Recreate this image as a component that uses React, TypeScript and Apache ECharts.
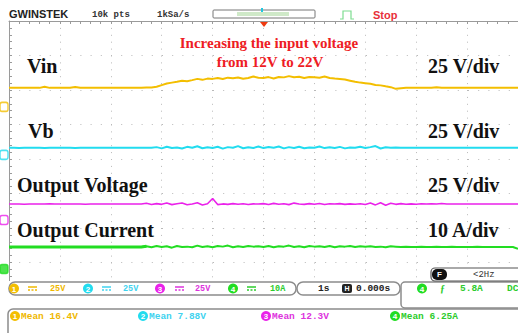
import React, { useEffect, useRef } from "react";
import * as echarts from "echarts";

// ---- Data ----
const TIME_STEP = 0.1; // seconds between samples (1 s/div, 10 div)
const CH_NAMES = ["Vin", "Vb", "Output Voltage", "Output Current"];
const CH_SCALE = [25, 25, 25, 10]; // V/div, V/div, V/div, A/div
const CH_OFFSET = [1.51, 0.12, -1.77, -3.19]; // ground level, divisions from centre

const VIN = [
  13.8, 13.8, 13.9, 13.8, 13.8, 13.8, 13.8, 14.6, 13.8, 13.8,
  13.8, 13.9, 13.8, 14.4, 13.8, 13.8, 13.8, 13.8, 13.9, 13.8,
  13.8, 13.8, 13.8, 13.9, 13.8, 13.8, 13.8, 14.0, 14.1, 14.6,
  15.8, 17.0, 17.6, 18.2, 19.0, 18.6, 19.4, 20.3, 19.6, 20.5,
  20.3, 21.0, 20.2, 21.2, 20.8, 21.3, 20.4, 21.0, 22.0, 21.2,
  21.0, 21.6, 20.6, 21.7, 21.4, 22.3, 21.5, 21.8, 20.9, 21.7,
  21.5, 21.2, 22.0, 21.0, 20.6, 20.3, 19.8, 19.0, 18.2, 17.6,
  17.2, 16.8, 15.9, 15.6, 14.9, 14.3, 13.1, 13.6, 13.8, 13.8,
  13.8, 13.9, 13.8, 13.8, 14.2, 13.8, 13.8, 13.8, 13.8, 13.8,
  13.8, 13.8, 13.9, 13.8, 13.8, 13.8, 13.8, 13.8, 13.8, 13.8,
  13.8,
];
const VB = [
  5.1, 5.1, 5.0, 5.1, 5.1, 5.1, 5.1, 5.0, 5.1, 5.1,
  5.1, 5.1, 5.1, 5.0, 5.1, 5.1, 5.1, 5.1, 5.1, 5.1,
  5.1, 5.1, 5.1, 5.1, 5.1, 5.1, 5.1, 5.1, 5.1, 5.6,
  4.7, 5.9, 5.0, 5.4, 4.6, 5.8, 5.1, 6.2, 4.8, 5.5,
  5.0, 5.9, 4.5, 5.6, 5.1, 6.3, 4.8, 5.5, 5.0, 6.0,
  4.9, 5.7, 5.2, 6.1, 4.7, 5.6, 5.0, 5.9, 4.8, 5.4,
  5.1, 6.0, 4.9, 5.5, 5.0, 5.8, 4.7, 5.4, 5.1, 5.9,
  5.0, 5.6, 6.4, 4.6, 5.5, 5.1, 5.3, 5.1, 5.2, 5.1,
  5.1, 5.1, 5.1, 5.1, 5.1, 5.1, 5.1, 5.1, 5.1, 5.1,
  5.1, 5.1, 5.1, 5.1, 5.1, 5.1, 5.1, 5.1, 5.1, 5.1,
  5.1,
];
const VOUT = [
  11.6, 11.6, 11.6, 11.5, 11.6, 11.6, 11.6, 11.6, 11.7, 11.6,
  11.6, 11.6, 11.6, 11.6, 11.6, 11.5, 11.6, 11.6, 11.6, 11.6,
  11.6, 11.6, 11.6, 11.6, 11.6, 11.6, 11.6, 12.2, 11.3, 11.9,
  11.4, 12.3, 11.2, 11.8, 12.4, 11.1, 11.7, 12.6, 10.9, 11.8,
  15.6, 11.2, 11.7, 11.4, 11.9, 11.5, 11.8, 11.3, 11.7, 11.6,
  11.9, 11.3, 12.1, 11.5, 11.8, 11.2, 12.3, 11.6, 11.4, 11.9,
  11.5, 12.0, 11.3, 11.8, 11.6, 11.9, 11.4, 11.7, 11.5, 11.8,
  11.3, 12.4, 11.0, 12.6, 10.8, 12.2, 11.4, 11.9, 11.5, 11.7,
  11.5, 11.8, 11.6, 11.7, 11.6, 12.0, 11.6, 11.6, 11.6, 11.6,
  11.6, 11.6, 11.6, 11.6, 11.6, 11.6, 11.6, 11.6, 11.6, 11.6,
  11.6,
];
const IOUT = [
  6.4, 6.4, 6.4, 6.4, 6.4, 6.4, 6.4, 6.4, 6.4, 6.4,
  6.4, 6.4, 6.4, 6.4, 6.4, 6.4, 6.4, 6.4, 6.4, 6.4,
  6.4, 6.4, 6.4, 6.4, 6.4, 6.4, 6.4, 6.6, 6.3, 6.7,
  6.4, 6.6, 6.2, 6.7, 6.4, 6.5, 6.3, 6.8, 6.4, 6.6,
  6.3, 6.7, 6.5, 6.8, 6.3, 6.6, 6.4, 6.7, 6.5, 6.6,
  6.4, 6.7, 6.3, 6.6, 6.5, 6.8, 6.4, 6.6, 6.3, 6.7,
  6.5, 6.6, 6.4, 6.7, 6.3, 6.6, 6.5, 6.7, 6.4, 6.6,
  6.5, 6.6, 6.4, 6.5, 6.3, 6.6, 6.5, 6.4, 6.5, 6.4,
  6.4, 6.5, 6.4, 6.4, 6.5, 6.4, 6.4, 6.5, 6.4, 6.4,
  6.4, 6.4, 6.5, 6.4, 6.4, 6.4, 6.4, 6.4, 6.4, 6.4,
  5.9,
];
const CH_DATA = [VIN, VB, VOUT, IOUT];
const CH_SETTING_LABELS = ["25V", "25V", "25V", "10A"];
const DIV_LABELS = ["25 V/div", "25 V/div", "25 V/div", "10 A/div"];
const MEAN_LABELS = ["Mean 16.4V", "Mean 7.88V", "Mean 12.3V", "Mean 6.25A"];
const TIMEBASE = "1s";
const H_POS = "0.000s";
const TRIG_LEVEL = "5.8A";
const TRIG_FREQ = "<2Hz";

// ---- Styles ----
const CH_COLORS = ["#f3be00", "#22dcef", "#ea22ea", "#22dd22"];
const CH_TEXT = ["#efb800", "#3fd3ef", "#dd33dd", "#2ccc2c"];
const GRID_DOT = "#b9b9b9";
const FRAME = "#9a9a9a";
const SERIF = "'Liberation Serif', 'Times New Roman', serif";
const MONO = "'Liberation Mono', 'DejaVu Sans Mono', monospace";
const SANS = "'Liberation Sans', Arial, sans-serif";

function toDiv(ch: number, v: number) {
  return CH_OFFSET[ch] + v / CH_SCALE[ch];
}

function txt(x: number, y: number, text: string, font: string, fill: string, align = "left") {
  return {
    type: "text",
    x,
    y,
    z: 100,
    silent: true,
    style: { text, font, fill, align, verticalAlign: "middle" },
  };
}

function chanCircle(cx: number, cy: number, ch: number) {
  return {
    type: "group",
    z: 100,
    children: [
      { type: "circle", shape: { cx, cy, r: 5 }, style: { fill: CH_COLORS[ch] }, z: 100 },
      {
        type: "text",
        x: cx,
        y: cy + 0.5,
        z: 101,
        style: { text: String(ch + 1), font: `bold 8px ${SANS}`, fill: "#ffffff", align: "center", verticalAlign: "middle" },
      },
    ],
  };
}

function dcSymbol(x: number, y: number, ch: number) {
  return {
    type: "group",
    z: 100,
    children: [
      { type: "line", shape: { x1: x, y1: y - 1.5, x2: x + 9, y2: y - 1.5 }, style: { stroke: CH_TEXT[ch], lineWidth: 1.5 }, z: 100 },
      { type: "line", shape: { x1: x, y1: y + 1.5, x2: x + 9, y2: y + 1.5 }, style: { stroke: CH_TEXT[ch], lineWidth: 1.5, lineDash: [2, 1.5] }, z: 100 },
    ],
  };
}

function buildOption() {
  const series: any[] = [];
  CH_DATA.forEach((arr, ch) => {
    series.push({
      name: CH_NAMES[ch],
      type: "line",
      data: arr.map((v, i) => [+(i * TIME_STEP).toFixed(2), toDiv(ch, v)]),
      showSymbol: false,
      symbol: "none",
      lineStyle: { color: CH_COLORS[ch], width: ch === 2 ? 1.6 : 2 },
      itemStyle: { color: CH_COLORS[ch] },
      z: 10 + ch,
      silent: true,
    });
  });
  // thicker quiet part of the current trace (before the input starts changing)
  series.push({
    name: "Output Current (quiet)",
    type: "line",
    data: IOUT.slice(0, 28).map((v, i) => [+(i * TIME_STEP).toFixed(2), toDiv(3, v)]),
    showSymbol: false,
    symbol: "none",
    lineStyle: { color: CH_COLORS[3], width: 3 },
    z: 14,
    silent: true,
  });
  // ground markers at the left edge
  CH_OFFSET.forEach((off, ch) => {
    series.push({
      type: "scatter",
      data: [[0, off]],
      symbol: "roundRect",
      symbolSize: [8, 9],
      symbolOffset: [-5, 0],
      clip: false,
      itemStyle: {
        color: ch === 3 ? CH_COLORS[ch] : "#ffffff",
        borderColor: CH_COLORS[ch],
        borderWidth: 1.5,
      },
      z: 20,
      silent: true,
    });
  });

  const graphic: any[] = [
    // header
    txt(9, 14, "GWINSTEK", `bold 11px ${SANS}`, "#222222"),
    txt(92, 15, "10k pts", `bold 9px ${MONO}`, "#333333"),
    txt(157, 15, "1kSa/s", `bold 9px ${MONO}`, "#333333"),
    { type: "rect", z: 100, shape: { x: 213, y: 10, width: 102, height: 8, r: 1 }, style: { fill: "#ffffff", stroke: "#777777", lineWidth: 1 } },
    { type: "rect", z: 101, shape: { x: 237, y: 12, width: 52, height: 4 }, style: { fill: "#cfe9c8" } },
    { type: "rect", z: 102, shape: { x: 261, y: 8, width: 2, height: 4 }, style: { fill: "#22c8e0" } },
    { type: "polygon", z: 102, shape: { points: [[260, 22], [268, 22], [264, 27]] }, style: { fill: "#ee3a10" } },
    { type: "polyline", z: 102, shape: { points: [[340, 19], [343, 19], [343, 11], [351, 11], [351, 19], [354, 19]] }, style: { stroke: "#7ddc90", lineWidth: 1.2, fill: null } },
    txt(373, 15, "Stop", `bold 11px ${SANS}`, "#e8303a"),
    // annotations
    txt(269, 43, "Increasing the input voltage", `bold 15px ${SERIF}`, "#ee1c24", "center"),
    txt(270, 62, "from 12V to 22V", `bold 15px ${SERIF}`, "#ee1c24", "center"),
    txt(27, 66, CH_NAMES[0], `bold 20px ${SERIF}`, "#111111"),
    txt(28, 131, CH_NAMES[1], `bold 20px ${SERIF}`, "#111111"),
    txt(17, 185, CH_NAMES[2], `bold 20px ${SERIF}`, "#111111"),
    txt(17, 230, CH_NAMES[3], `bold 20px ${SERIF}`, "#111111"),
    txt(428, 66, DIV_LABELS[0], `bold 20px ${SERIF}`, "#111111"),
    txt(428, 131, DIV_LABELS[1], `bold 20px ${SERIF}`, "#111111"),
    txt(428, 185, DIV_LABELS[2], `bold 20px ${SERIF}`, "#111111"),
    txt(428, 230, DIV_LABELS[3], `bold 20px ${SERIF}`, "#111111"),
    // bottom panels
    { type: "rect", z: 90, shape: { x: 0, y: 281, width: 518, height: 52 }, style: { fill: "#ffffff" } },
    { type: "rect", z: 95, shape: { x: 9, y: 282, width: 287, height: 13, r: 6 }, style: { fill: "#ffffff", stroke: "#8c8c8c", lineWidth: 1.5 } },
    { type: "rect", z: 95, shape: { x: 297, y: 282, width: 103, height: 13, r: 6 }, style: { fill: "#ffffff", stroke: "#8c8c8c", lineWidth: 1.5 } },
    { type: "rect", z: 95, shape: { x: 401, y: 282, width: 125, height: 26, r: 4 }, style: { fill: "#ffffff", stroke: "#8c8c8c", lineWidth: 1.5 } },
    { type: "rect", z: 95, shape: { x: 431, y: 268, width: 95, height: 13, r: 4 }, style: { fill: "#ffffff", stroke: "#555555", lineWidth: 1.2 } },
    { type: "rect", z: 96, shape: { x: 432, y: 269, width: 15, height: 11, r: 5 }, style: { fill: "#111111" } },
    txt(439.5, 274.8, "F", `bold 8px ${SANS}`, "#ffffff", "center"),
    txt(473, 274.8, TRIG_FREQ, `9px ${MONO}`, "#333333"),
    { type: "rect", z: 95, shape: { x: 8, y: 309, width: 520, height: 30, r: 5 }, style: { fill: "#ffffff", stroke: "#8c8c8c", lineWidth: 1.5 } },
    // time bar
    txt(318, 288.8, TIMEBASE, `bold 9.5px ${MONO}`, "#222222"),
    { type: "rect", z: 100, shape: { x: 342, y: 284, width: 10, height: 9, r: 2 }, style: { fill: "#222222" } },
    txt(347, 288.8, "H", `bold 7px ${SANS}`, "#ffffff", "center"),
    txt(356, 288.8, H_POS, `bold 9.5px ${MONO}`, "#222222"),
    // trigger
    chanCircle(422, 288.5, 3),
    txt(440, 288.8, "ƒ", `bold 10px ${SERIF}`, CH_TEXT[3]),
    txt(460, 288.8, TRIG_LEVEL, `bold 9.5px ${MONO}`, CH_TEXT[3]),
    txt(507, 288.8, "DC", `bold 9.5px ${MONO}`, CH_TEXT[3]),
  ];

  const chCircleX = [14, 88, 160, 233];
  const dcX = [28, 102, 175, 247];
  const setX = [50, 123, 195, 270];
  const meanCircleX = [15, 143, 266, 395];
  for (let ch = 0; ch < 4; ch++) {
    graphic.push(chanCircle(chCircleX[ch], 288.5, ch));
    graphic.push(dcSymbol(dcX[ch], 288.5, ch));
    graphic.push(txt(setX[ch], 288.8, CH_SETTING_LABELS[ch], `bold 8.5px ${MONO}`, CH_TEXT[ch]));
    graphic.push(chanCircle(meanCircleX[ch], 316, ch));
    graphic.push(txt(meanCircleX[ch] + 6, 316.3, MEAN_LABELS[ch], `bold 9.5px ${MONO}`, CH_TEXT[ch]));
  }

  return {
    animation: false,
    backgroundColor: "#ffffff",
    grid: { left: 9, top: 21, width: 510, height: 276, containLabel: false },
    xAxis: {
      type: "value",
      min: 0,
      max: 10,
      interval: 1,
      position: "top",
      axisLine: { show: true, onZero: false, lineStyle: { color: FRAME, width: 1 } },
      axisTick: { show: true, inside: true, length: 3, lineStyle: { color: FRAME } },
      minorTick: { show: true, splitNumber: 5, length: 3, lineStyle: { color: FRAME } },
      axisLabel: { show: false },
      splitLine: { show: true, lineStyle: { color: GRID_DOT, width: 1, type: [1, 5.9] } },
    },
    yAxis: {
      type: "value",
      min: -4,
      max: 4,
      interval: 1,
      axisLine: { show: true, onZero: false, lineStyle: { color: FRAME, width: 1 } },
      axisTick: { show: true, inside: true, length: 3, lineStyle: { color: FRAME } },
      minorTick: { show: true, splitNumber: 5, length: 3, lineStyle: { color: FRAME } },
      axisLabel: { show: false },
      splitLine: { show: true, lineStyle: { color: GRID_DOT, width: 1, type: [1, 9.2] } },
    },
    series,
    graphic,
  };
}

export default function App() {
  const ref = useRef<HTMLDivElement>(null);
  useEffect(() => {
    document.body.style.margin = "0";
    const chart = echarts.init(ref.current!, null, { renderer: "svg" });
    chart.setOption(buildOption() as any);
    return () => chart.dispose();
  }, []);
  return <div ref={ref} style={{ width: 518, height: 333 }} />;
}
